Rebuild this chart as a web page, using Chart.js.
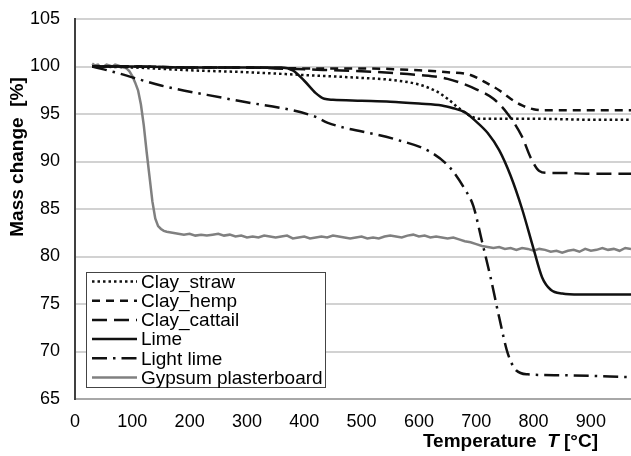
<!DOCTYPE html>
<html>
<head>
<meta charset="utf-8">
<script src="https://cdn.jsdelivr.net/npm/chart.js@4.4.1/dist/chart.umd.min.js"></script>
<style>
  html, body { margin: 0; padding: 0; background: #ffffff; }
  #wrap { width: 631px; height: 456px; }
</style>
</head>
<body>
<div id="wrap"><canvas id="c" width="631" height="456"></canvas></div>
<script>
// ---- Data ----
const seriesLabels = ["Clay_straw", "Clay_hemp", "Clay_cattail", "Lime", "Light lime", "Gypsum plasterboard"];

const strawT = [30, 100, 200, 300, 400, 500, 550, 600, 630, 650, 670, 690, 705, 720, 800, 900, 970];
const strawV = [100.0, 99.9, 99.6, 99.4, 99.1, 98.8, 98.6, 98.1, 97.4, 96.6, 95.6, 94.8, 94.5, 94.5, 94.5, 94.4, 94.4];

const hempT = [30, 100, 200, 300, 400, 500, 600, 650, 690, 720, 740, 760, 780, 800, 820, 850, 900, 970];
const hempV = [100.0, 100.0, 99.9, 99.9, 99.8, 99.8, 99.6, 99.4, 99.1, 98.2, 97.5, 96.6, 95.9, 95.5, 95.4, 95.4, 95.4, 95.4];

const cattailT = [30, 100, 200, 300, 350, 400, 500, 600, 650, 700, 730, 755, 780, 795, 810, 825, 850, 900, 970];
const cattailV = [100.0, 100.0, 99.9, 99.9, 99.8, 99.7, 99.5, 99.1, 98.7, 97.6, 96.6, 95.0, 92.6, 90.4, 89.0, 88.8, 88.8, 88.7, 88.7];

const limeT = [30, 100, 200, 300, 360, 380, 400, 420, 435, 450, 500, 550, 600, 640, 660, 680, 700, 720, 740, 760, 780, 800, 815, 830, 850, 880, 920, 970];
const limeV = [100.0, 100.0, 99.9, 99.9, 99.9, 99.6, 98.5, 97.2, 96.6, 96.5, 96.4, 96.3, 96.1, 95.9, 95.6, 95.2, 94.2, 93.0, 91.2, 88.5, 85.0, 80.8, 77.8, 76.5, 76.1, 76.0, 76.0, 76.0];

const lightT = [30, 50, 75, 150, 275, 420, 440, 555, 620, 655, 680, 695, 710, 725, 740, 755, 770, 790, 850, 970];
const lightV = [100.0, 99.7, 99.3, 98.0, 96.5, 94.7, 94.1, 92.4, 91.0, 89.3, 87.1, 85.3, 81.6, 77.8, 73.6, 69.8, 68.0, 67.6, 67.5, 67.3];

const gypT = [30, 35, 40, 45, 50, 55, 60, 65, 70, 75, 80, 85, 90, 95, 100, 105, 110, 115, 120, 125, 130, 135, 140, 145, 150, 155, 160, 170,
  180, 190, 200, 210, 220, 230, 240, 250, 260, 270, 280, 290, 300, 310, 320, 330, 340, 350, 360, 370, 380, 390,
  400, 410, 420, 430, 440, 450, 460, 470, 480, 490, 500, 510, 520, 530, 540, 550, 560, 570, 580, 590,
  600, 610, 620, 630, 640, 650, 660, 670, 680, 690, 700, 710, 720, 730, 740, 750, 760, 770, 780, 790,
  800, 810, 820, 830, 840, 850, 860, 870, 880, 890, 900, 910, 920, 930, 940, 950, 960, 970];
const gypV = [100.3, 100.1, 100.2, 99.9, 100.0, 100.2, 100.1, 100.0, 100.2, 100.1, 100.0, 99.9, 99.8, 99.5, 99.0, 98.3, 97.5, 96.0, 93.8, 91.0, 88.4, 85.8, 84.0, 83.2, 82.9, 82.7, 82.6, 82.5,
  82.4, 82.3, 82.4, 82.2, 82.3, 82.2, 82.3, 82.4, 82.2, 82.3, 82.1, 82.2, 82.0, 82.1, 82.0, 82.2, 82.1, 82.0, 82.1, 82.2, 81.9, 82.0,
  82.1, 81.9, 82.0, 82.1, 82.0, 82.2, 82.1, 82.0, 81.9, 82.0, 82.1, 81.9, 82.0, 81.9, 82.1, 82.2, 82.1, 82.0, 82.2, 82.3,
  82.1, 82.2, 82.0, 82.1, 82.0, 81.9, 82.0, 81.8, 81.6, 81.5, 81.3, 81.1, 81.0, 80.9, 81.0, 80.8, 80.9, 80.7, 80.9, 80.8,
  80.6, 80.8, 80.7, 80.5, 80.6, 80.4, 80.6, 80.7, 80.5, 80.8, 80.6, 80.7, 80.9, 80.7, 80.8, 80.6, 80.9, 80.8];

const xTickValues = [0, 100, 200, 300, 400, 500, 600, 700, 800, 900];
const yTickValues = [65, 70, 75, 80, 85, 90, 95, 100, 105];

// ---- Helpers ----
function pts(ts, vs) { return ts.map((t, i) => ({ x: t, y: vs[i] })); }

const FONT = "'Liberation Sans', Arial, sans-serif";

const styles = [
  { color: '#111111', width: 2.5, dash: [2.5, 3], cap: 'butt' },
  { color: '#111111', width: 2.5, dash: [8, 6], cap: 'butt' },
  { color: '#111111', width: 2.5, dash: [15, 7], cap: 'butt' },
  { color: '#111111', width: 2.5, dash: [], cap: 'butt' },
  { color: '#111111', width: 2.5, dash: [15, 6, 2.5, 6], cap: 'butt' },
  { color: '#808080', width: 2.5, dash: [], cap: 'butt' }
];

const seriesData = [pts(strawT, strawV), pts(hempT, hempV), pts(cattailT, cattailV), pts(limeT, limeV), pts(lightT, lightV), pts(gypT, gypV)];

const datasets = seriesLabels.map((lab, i) => ({
  label: lab,
  data: seriesData[i],
  borderColor: styles[i].color,
  borderWidth: styles[i].width,
  borderDash: styles[i].dash,
  borderCapStyle: styles[i].cap,
  pointRadius: 0,
  fill: false,
  tension: 0,
  cubicInterpolationMode: i === 5 ? 'default' : 'monotone'
}));

const overlay = {
  id: 'overlay',
  afterDraw(chart) {
    const ctx = chart.ctx;
    ctx.save();
    // Y axis title
    ctx.fillStyle = '#000';
    ctx.font = "bold 19px " + FONT;
    ctx.textAlign = 'center';
    ctx.textBaseline = 'middle';
    ctx.translate(18, 157);
    ctx.rotate(-Math.PI / 2);
    ctx.fillText('Mass change  [%]', 0, 0);
    ctx.restore();

    // X axis title, right-aligned
    ctx.save();
    ctx.fillStyle = '#000';
    ctx.textBaseline = 'middle';
    ctx.textAlign = 'left';
    const p1 = 'Temperature  ', p2 = 'T', p3 = ' [°C]';
    ctx.font = "bold 19px " + FONT;
    const w1 = ctx.measureText(p1).width, w3 = ctx.measureText(p3).width;
    ctx.font = "italic bold 19px " + FONT;
    const w2 = ctx.measureText(p2).width;
    let x = 598 - (w1 + w2 + w3);
    const y = 442;
    ctx.font = "bold 19px " + FONT; ctx.fillText(p1, x, y); x += w1;
    ctx.font = "italic bold 19px " + FONT; ctx.fillText(p2, x, y); x += w2;
    ctx.font = "bold 19px " + FONT; ctx.fillText(p3, x, y);
    ctx.restore();

    // Legend box
    ctx.save();
    ctx.fillStyle = '#ffffff';
    ctx.fillRect(86, 272, 240, 116);
    ctx.strokeStyle = '#444444';
    ctx.lineWidth = 1;
    ctx.strokeRect(86.5, 272.5, 239, 115);
    chart.data.datasets.forEach((ds, i) => {
      const ly = 281.5 + i * 19.2;
      ctx.beginPath();
      ctx.strokeStyle = ds.borderColor;
      ctx.lineWidth = ds.borderWidth;
      ctx.setLineDash(ds.borderDash || []);
      ctx.lineCap = ds.borderCapStyle || 'butt';
      ctx.moveTo(92, ly);
      ctx.lineTo(137, ly);
      ctx.stroke();
      ctx.setLineDash([]);
      ctx.fillStyle = '#000';
      ctx.font = "19px " + FONT;
      ctx.textAlign = 'left';
      ctx.textBaseline = 'middle';
      ctx.fillText(ds.label, 141, ly + 1);
    });
    ctx.restore();
  }
};

new Chart(document.getElementById('c'), {
  type: 'line',
  data: { datasets },
  options: {
    responsive: false,
    animation: false,
    devicePixelRatio: 1,
    layout: { padding: { top: 19, right: 0, left: 0, bottom: 0 } },
    plugins: { legend: { display: false }, tooltip: { enabled: false }, title: { display: false } },
    scales: {
      x: {
        type: 'linear',
        min: 0, max: 970,
        afterFit(s) { s.height = 57; s.paddingLeft = 0; s.paddingRight = 0; },
        afterBuildTicks(s) { s.ticks = xTickValues.map(v => ({ value: v })); },
        ticks: { padding: 12, color: '#000', font: { family: FONT, size: 18 }, maxRotation: 0, autoSkip: false },
        grid: { display: false, drawTicks: false },
        border: { display: true, color: '#a8a8a8', width: 2 }
      },
      y: {
        type: 'linear',
        min: 65, max: 105,
        afterFit(s) { s.width = 75; s.paddingTop = 0; s.paddingBottom = 0; },
        afterBuildTicks(s) { s.ticks = yTickValues.map(v => ({ value: v })); },
        ticks: { padding: 15, color: '#000', font: { family: FONT, size: 18 } },
        grid: { display: true, color: '#d2d2d2', lineWidth: 2, drawTicks: false },
        border: { display: true, color: '#404040', width: 2 }
      }
    }
  },
  plugins: [overlay]
});
</script>
</body>
</html>
